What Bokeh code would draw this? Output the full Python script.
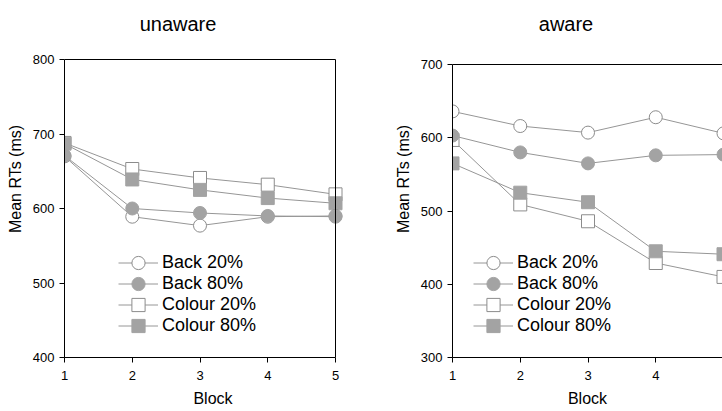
from bokeh.plotting import figure
from bokeh.models import Range1d, FixedTicker, Legend, LegendItem, Label, BoxAnnotation
from bokeh.layouts import row
from bokeh.embed import file_html
from bokeh.resources import INLINE

# ---- data ----
blocks = [1, 2, 3, 4, 5]
series_labels = ["Back 20%", "Back 80%", "Colour 20%", "Colour 80%"]

unaware_back20 = [670, 589, 577, 589, 590]
unaware_back80 = [671, 600, 594, 590, 589]
unaware_colour20 = [688, 653, 641, 632, 619]
unaware_colour80 = [687, 639, 625, 614, 607]

aware_back20 = [636, 616, 607, 628, 606]
aware_back80 = [603, 580, 565, 576, 577]
aware_colour20 = [597, 509, 486, 429, 410]
aware_colour80 = [565, 525, 512, 445, 441]

x_ticks = [1, 2, 3, 4, 5]
unaware_y_ticks = [400, 500, 600, 700, 800]
aware_y_ticks = [300, 400, 500, 600, 700]

FONT = "Liberation Sans"
LINE_COL = "#969696"
MARK_LINE = "#8c8c8c"
MARK_FILL = "#a3a3a3"

styles = {
    "Back 20%": dict(marker="circle", fill_color="white", line_color=MARK_LINE),
    "Back 80%": dict(marker="circle", fill_color=MARK_FILL, line_color=MARK_FILL),
    "Colour 20%": dict(marker="square", fill_color="white", line_color=MARK_LINE),
    "Colour 80%": dict(marker="square", fill_color=MARK_FILL, line_color=MARK_FILL),
}

HEIGHT = 411
FRAME_BOTTOM = 357          # pixel row of the lowest y tick
MB_BOTTOM = HEIGHT - FRAME_BOTTOM
TITLE_BASELINE = 23         # pixel row of the title baseline


def make_panel(title, series, y_ticks, x_end, width, mb_left, mb_right,
               box_top_px, legend_x):
    # the frame spans the whole height above the x axis so the title can sit in it
    y_lo, y_hi = y_ticks[0], y_ticks[-1]
    units_per_px = (y_hi - y_lo) / (FRAME_BOTTOM - box_top_px)
    y_top = y_hi + box_top_px * units_per_px

    p = figure(width=width, height=HEIGHT, output_backend="svg",
               toolbar_location=None,
               x_range=Range1d(x_ticks[0], x_end),
               y_range=Range1d(y_lo, y_top),
               min_border_left=mb_left, min_border_right=mb_right,
               min_border_top=0, min_border_bottom=MB_BOTTOM)
    p.xgrid.visible = False
    p.ygrid.visible = False
    p.background_fill_color = "white"
    p.border_fill_color = "white"
    p.outline_line_color = None

    # plot box
    p.add_layout(BoxAnnotation(left=x_ticks[0], right=x_ticks[-1], bottom=y_lo, top=y_hi,
                               fill_alpha=0, line_color="black", line_width=1,
                               line_alpha=1))

    # title
    p.add_layout(Label(x=(x_ticks[0] + x_ticks[-1]) / 2, y=FRAME_BOTTOM - TITLE_BASELINE,
                       x_units="data", y_units="screen", x_offset=-22, text=title,
                       text_align="center", text_baseline="alphabetic",
                       text_font=FONT, text_font_size="20px", text_color="black"))

    for ax in (p.xaxis[0], p.yaxis[0]):
        ax.axis_line_color = "black"
        ax.major_tick_line_color = "black"
        ax.major_tick_out = 5
        ax.major_tick_in = 0
        ax.minor_tick_line_color = None
        ax.major_label_text_font = FONT
        ax.major_label_text_font_size = "13px"
        ax.major_label_text_color = "black"
        ax.axis_label_text_font = FONT
        ax.axis_label_text_font_size = "16px"
        ax.axis_label_text_font_style = "normal"
        ax.axis_label_text_color = "black"
    p.xaxis.ticker = FixedTicker(ticks=x_ticks)
    p.yaxis.ticker = FixedTicker(ticks=y_ticks)
    p.xaxis.bounds = (x_ticks[0], x_ticks[-1])
    p.yaxis.bounds = (y_lo, y_hi)
    p.xaxis.axis_label = "Block"
    p.yaxis.axis_label = "Mean RTs (ms)"
    p.xaxis.major_label_standoff = 8
    p.xaxis.axis_label_standoff = 7
    p.yaxis.major_label_standoff = 5
    p.yaxis.axis_label_standoff = 6

    lines = {}
    for lab in series_labels:
        lines[lab] = p.line(blocks, series[lab], line_color=LINE_COL, line_width=1)
    marks = {}
    for lab in ["Colour 20%", "Colour 80%", "Back 20%", "Back 80%"]:
        st = styles[lab]
        marks[lab] = p.scatter(blocks, series[lab], size=13, marker=st["marker"],
                               fill_color=st["fill_color"], line_color=st["line_color"],
                               line_width=1)
    n = len(series_labels)
    for i, lab in enumerate(series_labels):
        legend = Legend(items=[LegendItem(label=lab, renderers=[lines[lab], marks[lab]])],
                        location=(legend_x, 15 + 21 * (n - 1 - i)),
                        padding=0, margin=0, spacing=0,
                        glyph_height=33, glyph_width=40, label_height=18,
                        label_standoff=4, border_line_color=None,
                        background_fill_alpha=0,
                        label_text_font=FONT, label_text_font_size="18px",
                        label_text_color="black")
        p.add_layout(legend)
    return p


left = make_panel("unaware",
                  {"Back 20%": unaware_back20, "Back 80%": unaware_back80,
                   "Colour 20%": unaware_colour20, "Colour 80%": unaware_colour80},
                  unaware_y_ticks, 5 + 26 / 67.75, 361, 64, 0, 59, 54)
right = make_panel("aware",
                   {"Back 20%": aware_back20, "Back 80%": aware_back80,
                    "Colour 20%": aware_colour20, "Colour 80%": aware_colour80},
                   aware_y_ticks, 1 + 270 / 67.75, 361, 91, 0, 64, 21)

layout = row(left, right)
open("out.html", "w").write(file_html(layout, INLINE))
